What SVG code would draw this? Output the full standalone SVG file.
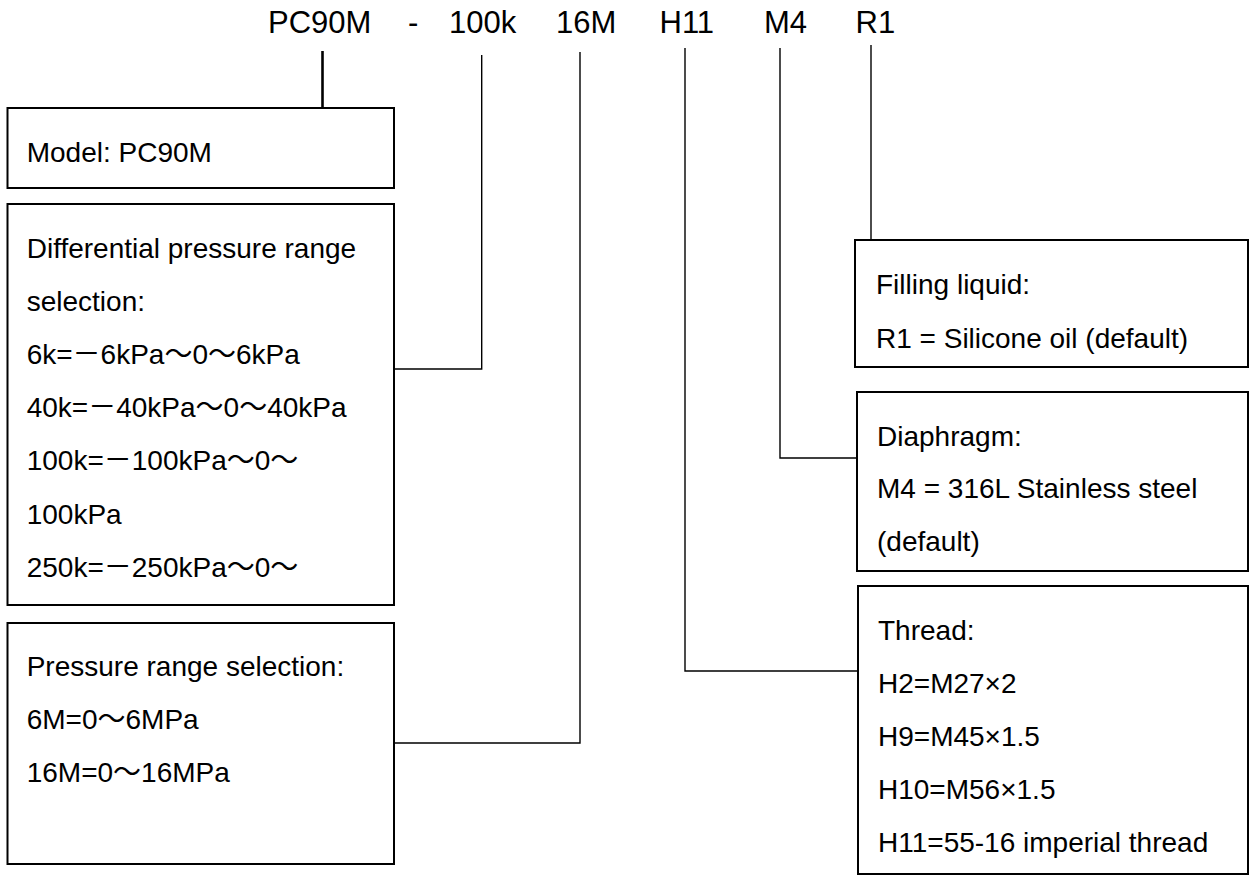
<svg xmlns="http://www.w3.org/2000/svg" width="1250" height="876" viewBox="0 0 1250 876">
<style>
text{font-family:"Liberation Sans","Noto Sans CJK SC",Arial,sans-serif;fill:#000}
.code{font-size:31px}
.body{font-size:28px}
.box{fill:#fff;stroke:#000;stroke-width:2}
.conn{fill:none;stroke:#000;stroke-width:1.4}
.thick{fill:none;stroke:#000;stroke-width:2.6}
</style>
<rect width="1250" height="876" fill="#fff"/>
<g id="code">
<text class="code" x="268" y="33">PC90M</text>
<text class="code" x="408" y="33">-</text>
<text class="code" x="449" y="33">100k</text>
<text class="code" x="556" y="33">16M</text>
<text class="code" x="659.5" y="33">H11</text>
<text class="code" x="764" y="33">M4</text>
<text class="code" x="855.5" y="33">R1</text>
</g>
<g id="connectors">
<line class="thick" x1="322.5" y1="51" x2="322.5" y2="108"/>
<polyline class="conn" points="481.7,55 481.7,369 394,369"/>
<polyline class="conn" points="580,52 580,743 394,743"/>
<polyline class="conn" points="685,48 685,671 858,671"/>
<polyline class="conn" points="780,48 780,458 857,458"/>
<line class="conn" x1="871" y1="45" x2="871" y2="240"/>
</g>
<g id="model">
<rect class="box" x="7.5" y="108" width="386.5" height="80"/>
<text class="body" x="26.7" y="162">Model: PC90M</text>
</g>
<g id="diff">
<rect class="box" x="7.5" y="204" width="386.5" height="401"/>
<text class="body" x="26.7" y="258">Differential pressure range</text>
<text class="body" x="26.7" y="311">selection:</text>
<text class="body" x="26.7" y="364">6k=－6kPa～0～6kPa</text>
<text class="body" x="26.7" y="417">40k=－40kPa～0～40kPa</text>
<text class="body" x="26.7" y="470">100k=－100kPa～0～</text>
<text class="body" x="26.7" y="524">100kPa</text>
<text class="body" x="26.7" y="577">250k=－250kPa～0～</text>
</g>
<g id="pressure">
<rect class="box" x="7.5" y="623" width="386.5" height="241"/>
<text class="body" x="26.7" y="676">Pressure range selection:</text>
<text class="body" x="26.7" y="729">6M=0～6MPa</text>
<text class="body" x="26.7" y="782">16M=0～16MPa</text>
</g>
<g id="filling">
<rect class="box" x="855" y="240" width="393" height="127"/>
<text class="body" x="876" y="294">Filling liquid:</text>
<text class="body" x="876" y="348">R1 = Silicone oil (default)</text>
</g>
<g id="diaphragm">
<rect class="box" x="857" y="392" width="391" height="179"/>
<text class="body" x="877" y="446">Diaphragm:</text>
<text class="body" x="877" y="498">M4 = 316L Stainless steel</text>
<text class="body" x="877" y="551">(default)</text>
</g>
<g id="thread">
<rect class="box" x="858" y="586" width="390" height="288"/>
<text class="body" x="878" y="640">Thread:</text>
<text class="body" x="878" y="693">H2=M27×2</text>
<text class="body" x="878" y="746">H9=M45×1.5</text>
<text class="body" x="878" y="799">H10=M56×1.5</text>
<text class="body" x="878" y="852">H11=55-16 imperial thread</text>
</g>
</svg>
